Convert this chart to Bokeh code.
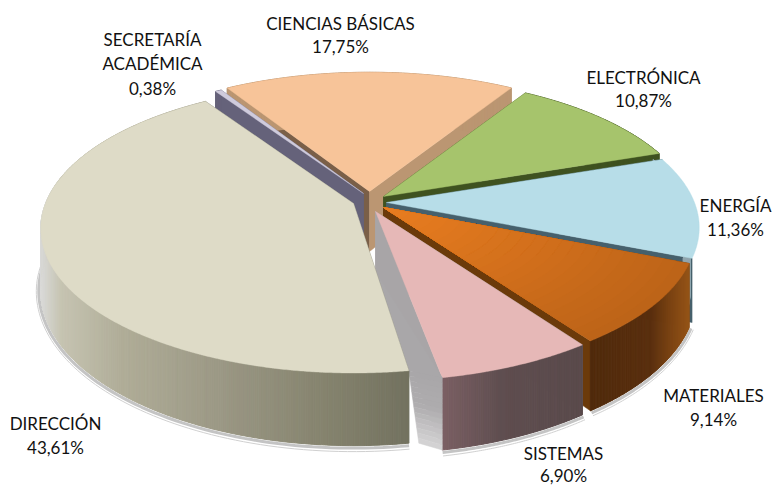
import math
import numpy as np
from bokeh.plotting import figure
from bokeh.models import Range1d, ColumnDataSource
from bokeh.core.properties import value
from bokeh.embed import file_html
from bokeh.resources import INLINE

# data (clockwise on screen, from the top-left)
names = ["SECRETARÍA ACADÉMICA", "CIENCIAS BÁSICAS", "ELECTRÓNICA", "ENERGÍA", "MATERIALES", "SISTEMAS", "DIRECCIÓN"]
shares = [0.38, 17.75, 10.87, 11.36, 9.14, 6.90, 43.61]

# styles
top_colors = ["#cfcbdc", "#f7c499", "#a6c46c", "#b7dde8", "#e87a1f", "#e6b8b7", "#dedbc7"]
top_inner = ["#cfcbdc", "#f7c499", "#a6c46c", "#b7dde8", "#ea7d20", "#e6b8b7", "#dedbc7"]
top_outer = ["#cfcbdc", "#f7c499", "#a6c46c", "#b7dde8", "#bd6418", "#e6b8b7", "#dedbc7"]
start_face = ["#65627a", "#7a5f48", "#3f5220", "#46606c", "#6b3a0a", "#a8a5a7", "#77766a"]
end_face = ["#65627a", "#bb9672", "#3f5220", "#46606c", "#6b3a0a", "#a8a5a7", "#77766a"]
rim_stops = [
    [(0, "#65627a"), (800, "#65627a")],
    [(0, "#bb9672"), (800, "#bb9672")],
    [(0, "#3f5220"), (800, "#3f5220")],
    [(600, "#8096a0"), (800, "#a9bbc2")],
    [(585, "#4f2a0c"), (650, "#5a2f0e"), (670, "#7c4413"), (688, "#955418")],
    [(440, "#7c6064"), (500, "#5f4e50"), (580, "#5a4a4b")],
    [(38, "#dcdcdc"), (60, "#c6c4b2"), (120, "#b0ad98"), (220, "#9b9885"), (320, "#86846f"), (411, "#72715f")],
]
shade_stops = [(0, "#a9a7a9"), (0.45, "#aeacae"), (1, "#d6d5d6")]
# how far each slice is pulled out of the pie, and small trims
explode_dx = [-9, -3, 11, 14, 11, 3, -19]
explode_dy = [-10, -12, -7, -1, 4, 8, 0]
trim_start_deg = [0, 0, 0, 0, 0, 0, 1.8]
rim_dx = [0, 0, 0, -9, 0, 0, 0]
cx, cy = 372.0, 203.0
ax, by, persp, depth = 308.0, 140.0, 0.174, 60.0
start_deg = -123.37

W, H = 776, 486
p = figure(width=W, height=H, output_backend="svg", toolbar_location=None,
           x_range=Range1d(0, W), y_range=Range1d(H, 0), min_border=0)
p.axis.visible = False
p.grid.visible = False
p.outline_line_color = None
p.background_fill_color = "white"


def hex2rgb(c):
    return [int(c[i:i + 2], 16) for i in (1, 3, 5)]


def mix(stops, x):
    xs = [s[0] for s in stops]
    cols = np.array([hex2rgb(s[1]) for s in stops])
    return "#%02x%02x%02x" % tuple(int(round(np.interp(x, xs, cols[:, i]))) for i in range(3))


def proj(phi, r=1.0):
    """Offset from a slice's apex of a point on the tilted disc."""
    s, c = math.sin(phi), math.cos(phi)
    w = 1 - persp * s
    return ax * r * c / w, by * r * s / w, depth / w


total = sum(shares)
spans = []
a0 = math.radians(start_deg)
for v, t in zip(shares, trim_start_deg):
    a1 = a0 + 2 * math.pi * v / total
    spans.append((a0 + math.radians(t), a1))
    a0 = a1
apexes = [(cx + dx, cy + dy) for dx, dy in zip(explode_dx, explode_dy)]

# soft shadow hugging the front of the pie
for i in (6, 5, 4):
    a0, a1 = spans[i]
    lo, hi = a0, a1
    if i == 6:
        hi = min(a1, math.radians(188))
    ph = np.linspace(lo, hi, 80)
    ox, oy = apexes[i]
    xs, ys = [], []
    for f in ph:
        dx, dy, dz = proj(f)
        xs.append(ox + dx)
        ys.append(oy + dy + dz)
    xo = [x + 2.0 * math.cos(f) for x, f in zip(xs, ph)]
    yo = [y + 2.5 * max(math.sin(f), 0.25) for y, f in zip(ys, ph)]
    xo2 = [x + 4.5 * math.cos(f) for x, f in zip(xs, ph)]
    yo2 = [y + 6.0 * max(math.sin(f), 0.25) for y, f in zip(ys, ph)]
    p.line(xo2, yo2, line_color="#d0d0d0", line_width=1)
    p.line(xo, yo, line_color="#c4c4c4", line_width=3)

# back to front
for i in [1, 0, 2, 3, 4, 5, 6]:
    a0, a1 = spans[i]
    ox, oy = apexes[i]
    if i == 6:
        # grey shade between the front end of this slice and the pulled-out neighbour
        nx, ny = apexes[5]
        d_n = proj(spans[5][1])
        d_s = proj(a0)
        x_l0, y_l0 = ox + 0.4 * d_s[0], oy + 0.4 * d_s[1]
        x_r0, y_r0 = nx, ny + depth
        x_l1, y_l1 = ox + d_s[0], oy + d_s[1]
        x_r1, y_r1 = nx + d_n[0], ny + d_n[1]
        # upper part, up to the line joining the two slice corners
        p.patch([x_l0, x_l1, x_r1, x_r0], [y_l0, y_l1, y_r1, y_r0],
                fill_color=shade_stops[0][1], line_color=shade_stops[0][1], line_width=0.5)
        # lower part, fading downwards
        x_l2, y_l2 = x_l1 + 10, y_l1 + d_s[2]
        x_r2, y_r2 = x_r1, y_r1 + d_n[2]
        bands = 14
        for b in range(bands):
            t0, t1 = b / bands, (b + 1) / bands
            c = mix(shade_stops, (t0 + t1) / 2)
            p.patch([x_l1 + t0 * (x_l2 - x_l1), x_r1 + t0 * (x_r2 - x_r1),
                     x_r1 + t1 * (x_r2 - x_r1), x_l1 + t1 * (x_l2 - x_l1)],
                    [y_l1 + t0 * (y_l2 - y_l1), y_r1 + t0 * (y_r2 - y_r1),
                     y_r1 + t1 * (y_r2 - y_r1), y_l1 + t1 * (y_l2 - y_l1)],
                    fill_color=c, line_color=c, line_width=0.5)
    # radial cut faces
    for ang, col in ((a0, start_face[i]), (a1, end_face[i])):
        dx, dy, dz = proj(ang)
        p.patch([ox, ox + dx, ox + dx, ox], [oy, oy + dy, oy + dy + dz, oy + depth],
                fill_color=col, line_color=col, line_width=0.5)
    # outer wall, many narrow quads so that it can shade
    n = max(int(math.degrees(a1 - a0)) * 3, 2)
    ph = np.linspace(a0, a1, n + 1)
    qx, qy, qc = [], [], []
    for f0, f1 in zip(ph[:-1], ph[1:]):
        d0 = proj(f0)
        d1 = proj(f1)
        x0, x1 = ox + d0[0] + rim_dx[i], ox + d1[0] + rim_dx[i]
        qx.append([x0, x1, x1, x0])
        qy.append([oy + d0[1], oy + d1[1], oy + d1[1] + d1[2], oy + d0[1] + d0[2]])
        qc.append(mix(rim_stops[i], (x0 + x1) / 2))
    p.patches(qx, qy, fill_color=qc, line_color=qc, line_width=1.0)
    # top face: rings from the rim inwards when it is shaded
    rings = 24 if top_inner[i] != top_outer[i] else 1
    ph = np.linspace(a0, a1, n + 2)
    for k in range(rings):
        r = 1 - k / rings
        col = mix([(0, top_inner[i]), (1, top_outer[i])], r) if rings > 1 else top_colors[i]
        xs = [ox] + [ox + proj(f, r)[0] for f in ph]
        ys = [oy] + [oy + proj(f, r)[1] for f in ph]
        p.patch(xs, ys, fill_color=col, line_color=col, line_width=0.4)

# labels
lab_font = value("Lato")
pct = [f"{v:.2f}".replace(".", ",") + "%" for v in shares]
lines = {
    0: ["SECRETARÍA", "ACADÉMICA", pct[0]],
    1: [names[1], pct[1]],
    2: [names[2], pct[2]],
    3: [names[3], pct[3]],
    4: [names[4], pct[4]],
    5: [names[5], pct[5]],
    6: [names[6], pct[6]],
}
anchor = {0: (152, [39, 63, 88]), 1: (340, [23, 46]), 2: (643, [77, 100]), 3: (735, [205, 229]),
          4: (713, [395, 419]), 5: (563, [453, 475]), 6: (55, [423, 447])}
tx, ty, ts = [], [], []
for k, ls in lines.items():
    xc, yl = anchor[k]
    for s, y in zip(ls, yl):
        tx.append(xc)
        ty.append(y)
        ts.append(s)
src = ColumnDataSource(dict(x=tx, y=ty, t=ts))
p.text("x", "y", text="t", source=src, text_font=lab_font, text_font_size="17px",
       text_color="#111111", text_align="center", text_baseline="middle")

open("out.html", "w").write(file_html(p, INLINE))
